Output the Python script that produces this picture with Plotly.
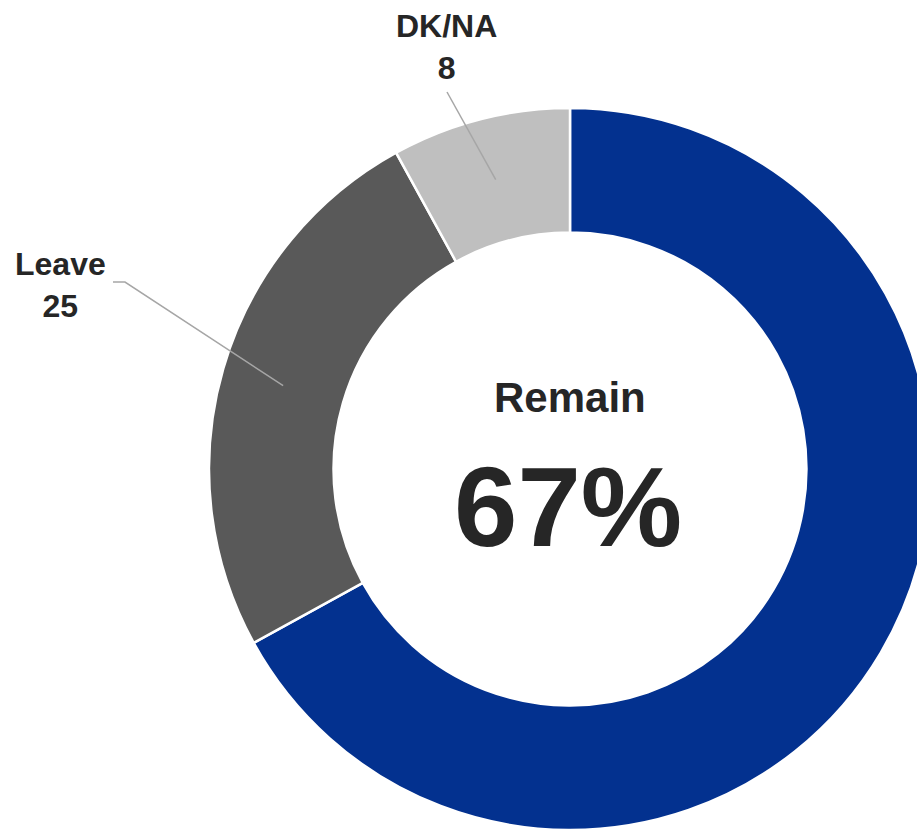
import math
import plotly.graph_objects as go

labels = ["Remain", "Leave", "DK/NA"]
values = [67, 25, 8]
colors = ["#03318F", "#595959", "#BFBFBF"]

W, H = 932, 830
cx, cy, R = 570, 469, 361
hole = 0.655
FONT = "Liberation Sans Narrow, Arial Narrow, Liberation Sans, Arial"
INK = "#262626"


def px(x):
    return x / W


def py(y):
    return 1 - y / H


def ring_point(i):
    # middle of slice i, halfway through the ring (clockwise from 12 o'clock)
    start = sum(values[:i]) / sum(values)
    mid = start + values[i] / sum(values) / 2
    ang = 2 * math.pi * mid
    r = R * (1 + hole) / 2
    return cx + r * math.sin(ang), cy - r * math.cos(ang)


fig = go.Figure(go.Pie(
    labels=labels, values=values, hole=hole, sort=False,
    direction="clockwise", rotation=0,
    marker=dict(colors=colors, line=dict(color="white", width=2.5)),
    textinfo="none", hoverinfo="label+value",
    domain=dict(x=[px(cx - R), px(cx + R)], y=[py(cy + R), py(cy - R)]),
))

ann = [
    dict(x=px(cx), y=py(397), text=labels[0], font=dict(size=42)),
    dict(x=px(cx - 2), y=py(506), text=f"{values[0]}%", font=dict(size=114)),
    dict(x=px(446), y=py(47), text=f"{labels[2]}<br>{values[2]}", font=dict(size=32)),
    dict(x=px(60), y=py(285), text=f"{labels[1]}<br>{values[1]}", font=dict(size=32)),
]
for a in ann:
    a.update(xref="paper", yref="paper", showarrow=False, xanchor="center",
             yanchor="middle",
             font=dict(family=FONT, color=INK, size=a["font"]["size"], weight="bold"))

ex, ey = ring_point(2)
lx, ly = ring_point(1)
shapes = [
    dict(type="path", xref="paper", yref="paper",
         path=f"M {px(447)} {py(92)} L {px(ex)} {py(ey)}",
         line=dict(color="#A6A6A6", width=1.5)),
    dict(type="path", xref="paper", yref="paper",
         path=f"M {px(113)} {py(282)} L {px(125)} {py(282)} L {px(lx)} {py(ly)}",
         line=dict(color="#A6A6A6", width=1.5)),
]

fig.update_layout(
    width=W, height=H, margin=dict(l=0, r=0, t=0, b=0),
    showlegend=False, paper_bgcolor="white",
    annotations=ann, shapes=shapes,
    font=dict(family=FONT, color=INK),
)

fig.write_html("out.html", config=dict(displayModeBar=False),
               post_script="document.body.style.margin='0';document.body.style.overflow='hidden';")
